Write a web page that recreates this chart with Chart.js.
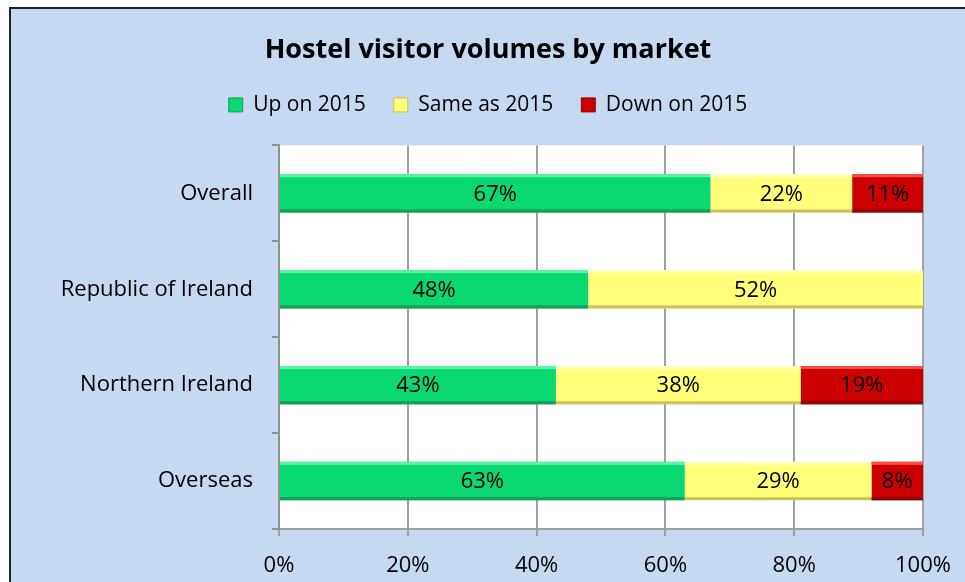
<!DOCTYPE html>
<html>
<head>
<meta charset="utf-8">
<script src="https://cdn.jsdelivr.net/npm/chart.js@4"></script>
<style>
  html, body { margin: 0; padding: 0; background: #fff; overflow: hidden; width: 965px; height: 582px; }
  #frame {
    position: absolute; left: 9px; top: 7px; width: 966px; height: 585px;
    background: #c6d9f1; border: 2px solid #222; box-sizing: border-box;
  }
  #wrap { position: absolute; left: 11px; top: 9px; width: 954px; height: 573px; }
</style>
</head>
<body>
<div id="frame"></div>
<div id="wrap"><canvas id="c"></canvas></div>
<script>
const markets = ["Overall", "Republic of Ireland", "Northern Ireland", "Overseas"];
const upOn2015 = [67, 48, 43, 63];
const sameAs2015 = [22, 52, 38, 29];
const downOn2015 = [11, 0, 19, 8];
const xTicks = [0, 20, 40, 60, 80, 100];

const FONT = "Open Sans";

// white plot area behind the bars
const plotBg = {
  id: "plotBg",
  beforeDraw(chart) {
    const { ctx, chartArea: a } = chart;
    ctx.save();
    ctx.fillStyle = "#fff";
    ctx.fillRect(a.left, a.top, a.right - a.left, a.bottom - a.top);
    ctx.restore();
  }
};

// extra room under the legend, and title/legend centred on the whole canvas
const headerFix = {
  id: "headerFix",
  beforeLayout(chart) {
    const lg = chart.legend;
    if (lg && !lg._gapPatched) {
      const fit = lg.fit.bind(lg);
      lg.fit = function () { fit(); this.height += 20; };
      lg._gapPatched = true;
    }
  },
  afterLayout(chart) {
    [chart.titleBlock, chart.legend].forEach(b => {
      if (!b) return;
      b.left = 0;
      b.right = chart.width;
      b.width = chart.width;
    });
  }
};

// bevel-ish shading plus value labels
const barDecor = {
  id: "barDecor",
  afterDatasetsDraw(chart) {
    const ctx = chart.ctx;
    const tones = [["#5cf3a8", "#179a5a"], ["#ffffc0", "#c8c060"], ["#ff4a4a", "#8a0a0a"]];
    chart.data.datasets.forEach((ds, di) => {
      chart.getDatasetMeta(di).data.forEach((bar, i) => {
        const v = ds.data[i];
        if (!v) return;
        const left = Math.min(bar.x, bar.base), right = Math.max(bar.x, bar.base);
        const top = bar.y - bar.height / 2, bottom = bar.y + bar.height / 2;
        ctx.save();
        ctx.fillStyle = tones[di][0];
        ctx.fillRect(left, top, right - left, 3);
        ctx.fillStyle = tones[di][1];
        ctx.fillRect(left, bottom - 3, right - left, 3);
        ctx.fillStyle = "#000";
        ctx.font = "22px '" + FONT + "'";
        ctx.textAlign = "center";
        ctx.textBaseline = "middle";
        ctx.fillText(v + "%", (left + right) / 2, bar.y + 1);
        ctx.restore();
      });
    });
  }
};

new Chart(document.getElementById("c"), {
  type: "bar",
  data: {
    labels: markets,
    datasets: [
      { label: "Up on 2015", data: upOn2015, backgroundColor: "#0ad872" },
      { label: "Same as 2015", data: sameAs2015, backgroundColor: "#ffff7a" },
      { label: "Down on 2015", data: downOn2015, backgroundColor: "#cc0000" }
    ]
  },
  options: {
    indexAxis: "y",
    responsive: true,
    maintainAspectRatio: false,
    animation: false,
    barPercentage: 0.4,
    categoryPercentage: 1,
    layout: { padding: { left: 0, right: 42, top: 0, bottom: 0 } },
    plugins: {
      title: {
        display: true,
        text: "Hostel visitor volumes by market",
        color: "#000",
        font: { family: FONT, size: 27, weight: "bold" },
        padding: { top: 25, bottom: 0 }
      },
      legend: {
        labels: {
          color: "#000",
          font: { family: FONT, size: 21 },
          boxWidth: 14,
          boxHeight: 14,
          padding: 28,
          generateLabels(chart) {
            const cols = ["#0ad872", "#ffff7a", "#cc0000"];
            const borders = ["#179a5a", "#c8c060", "#8a0a0a"];
            return chart.data.datasets.map((ds, i) => ({
              text: ds.label, fillStyle: cols[i], strokeStyle: borders[i],
              lineWidth: 1, datasetIndex: i, hidden: false
            }));
          }
        }
      },
      tooltip: { enabled: false }
    },
    scales: {
      x: {
        stacked: true,
        min: 0,
        max: 100,
        afterBuildTicks(scale) { scale.ticks = xTicks.map(v => ({ value: v })); },
        afterFit(scale) { scale.height = 53; scale.paddingRight = 0; },
        ticks: {
          color: "#000",
          font: { family: FONT, size: 22 },
          padding: 17,
          callback: v => v + "%"
        },
        grid: { color: "#a0a0a0", lineWidth: 2, tickLength: 7 },
        border: { color: "#a0a0a0", width: 2 }
      },
      y: {
        stacked: true,
        afterFit(scale) { scale.width = 268; },
        ticks: {
          color: "#000",
          font: { family: FONT, size: 22 },
          padding: 19
        },
        grid: { offset: true, drawOnChartArea: false, color: "#909090", lineWidth: 2, tickLength: 7 },
        border: { color: "#909090", width: 2 }
      }
    }
  },
  plugins: [plotBg, headerFix, barDecor]
});
</script>
</body>
</html>
